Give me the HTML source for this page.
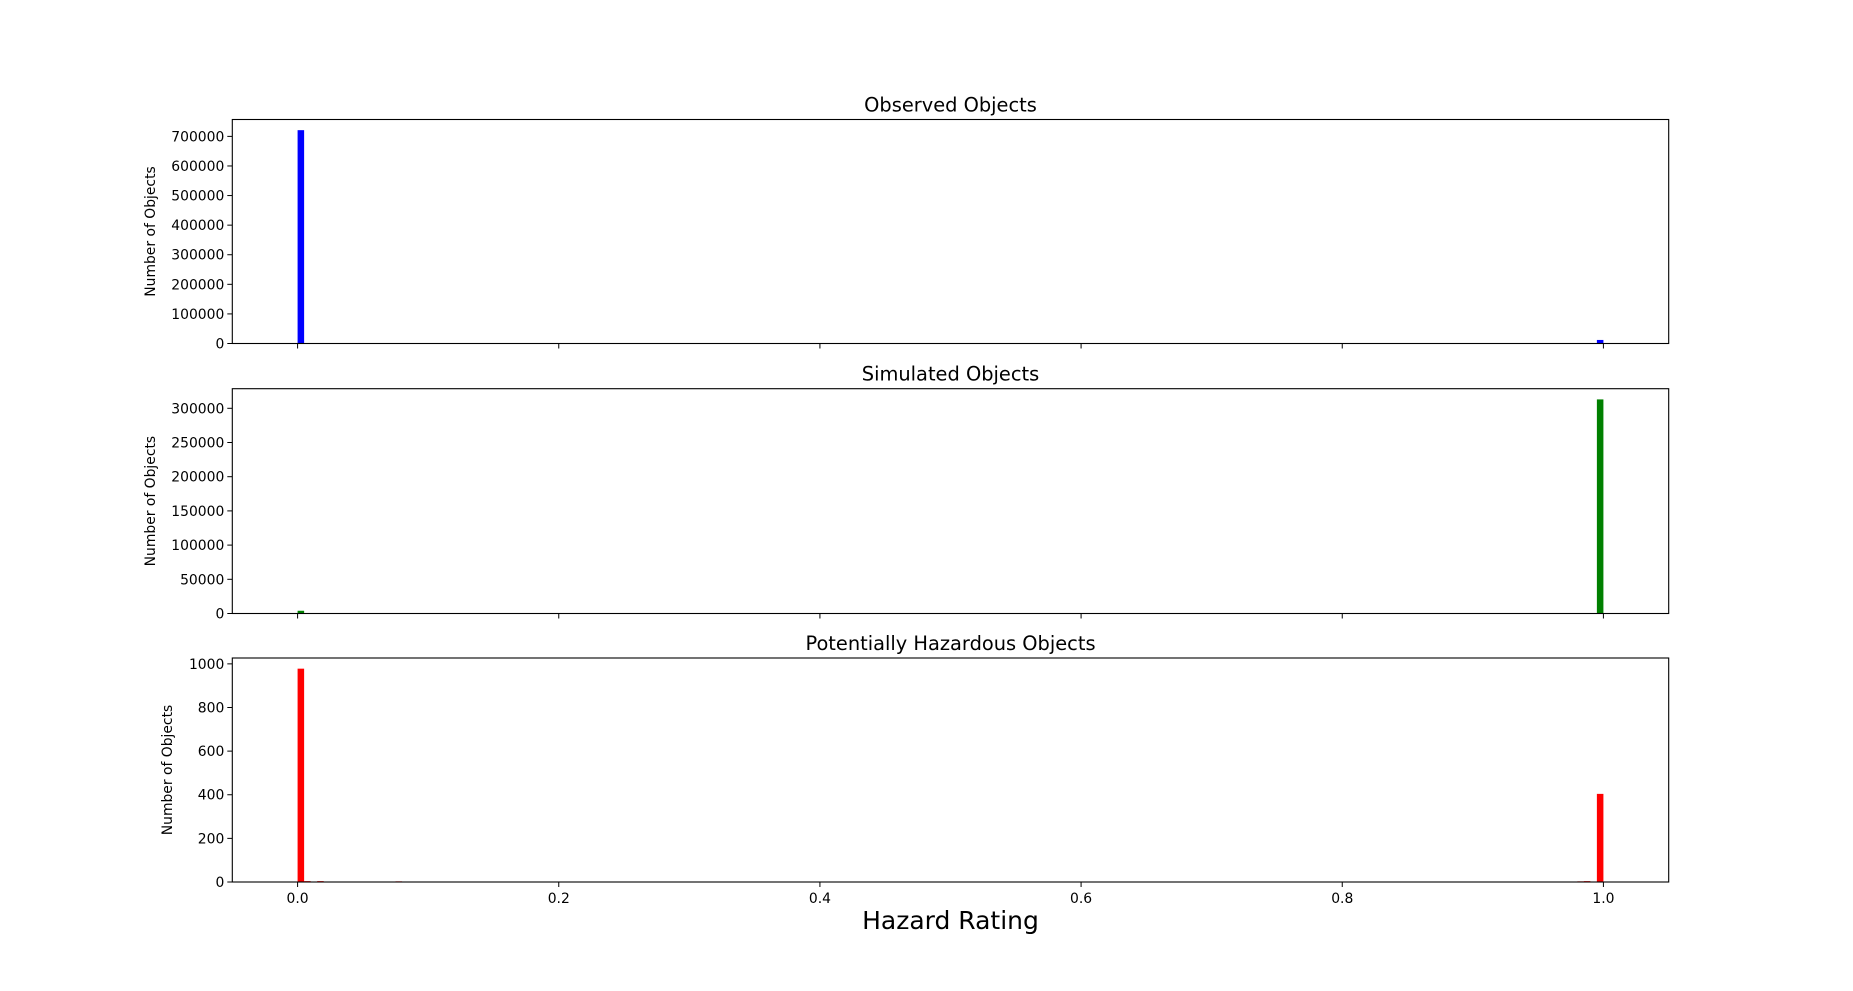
<!DOCTYPE html>
<html><head><meta charset="utf-8"><style>
body{margin:0;background:#fff;}
svg{display:block;font-family:"DejaVu Sans","Liberation Sans",sans-serif;}
</style></head><body>
<svg id="chart" width="1853" height="991" viewBox="0 0 1853 991" xmlns="http://www.w3.org/2000/svg"></svg>
<script>
// Data: histogram bins (200 bins over [0,1]); sparse bin index -> count
const binCount = 200;
const xTicks = [0.0, 0.2, 0.4, 0.6, 0.8, 1.0];
const xTickLabels = ["0.0", "0.2", "0.4", "0.6", "0.8", "1.0"];
const titles = ["Observed Objects", "Simulated Objects", "Potentially Hazardous Objects"];
const colors = ["#0000ff", "#008000", "#ff0000"];
const observedBins = [0, 199];
const observedCounts = [721000, 12000];
const simulatedBins = [0, 199];
const simulatedCounts = [4000, 313000];
const phaBins = [0, 1, 3, 15, 196, 197, 199];
const phaCounts = [978, 4, 4, 3, 3, 4, 404];
const yTicks1 = [0, 100000, 200000, 300000, 400000, 500000, 600000, 700000];
const yTicks2 = [0, 50000, 100000, 150000, 200000, 250000, 300000];
const yTicks3 = [0, 200, 400, 600, 800, 1000];

const svg = document.getElementById('chart');
const NS = 'http://www.w3.org/2000/svg';
function mk(tag, attrs, parent){
  const e = document.createElementNS(NS, tag);
  for (const k in attrs) e.setAttribute(k, attrs[k]);
  (parent||svg).appendChild(e); return e;
}
const L = 232.3, R = 1668.7;
const xMin = -0.05, xMax = 1.05;
function xs(v){ return L + (v - xMin) / (xMax - xMin) * (R - L); }
const panels = [
  {top:119.5, bottom:343.5, bins:observedBins, counts:observedCounts, ticks:yTicks1, ylx:155, name:'observed'},
  {top:388.7, bottom:613.5, bins:simulatedBins, counts:simulatedCounts, ticks:yTicks2, ylx:155, name:'simulated'},
  {top:658, bottom:882, bins:phaBins, counts:phaCounts, ticks:yTicks3, ylx:172, name:'pha'}
];
panels.forEach((p, i) => {
  const g = mk('g', {});
  
  
  const yMax = Math.max(...p.counts) * 1.05;
  const ys = v => p.bottom - v / yMax * (p.bottom - p.top);
  const bw = 1 / binCount;
  p.bins.forEach((b, j) => {
    const x0 = xs(b * bw), x1 = xs((b + 1) * bw);
    const y = ys(p.counts[j]);
    const r = mk('rect', {x:x0, y:y, width:x1 - x0, height:Math.max(p.bottom - y, 0.5), fill:colors[i]}, g);
    
    
  });
  const frame = mk('rect', {x:L, y:p.top, width:R - L, height:p.bottom - p.top, fill:'none', stroke:'#000', 'stroke-width':1.1}, g);
  
  
  p.ticks.forEach(t => {
    const y = ys(t);
    mk('line', {x1:L - 5, x2:L, y1:y, y2:y, stroke:'#000', 'stroke-width':1}, g);
    const tl = mk('text', {x:L - 8, y:y + 5, 'text-anchor':'end', 'font-size':13.9, fill:'#000'}, g);
    tl.textContent = String(t);
    
    
  });
  xTicks.forEach((t, k) => {
    const x = xs(t);
    mk('line', {x1:x, x2:x, y1:p.bottom, y2:p.bottom + 5, stroke:'#000', 'stroke-width':1}, g);
    if (i === 2) {
      const tl = mk('text', {x:x, y:p.bottom + 21, 'text-anchor':'middle', 'font-size':13.9, fill:'#000'}, g);
      tl.textContent = xTickLabels[k];
      
      
    }
  });
  const title = mk('text', {x:(L + R) / 2, y:p.top - 8, 'text-anchor':'middle', 'font-size':19.4, fill:'#000'}, g);
  title.textContent = titles[i];
  
  
  const cy = (p.top + p.bottom) / 2;
  const yl = mk('text', {x:p.ylx, y:cy, 'text-anchor':'middle', 'font-size':13.9, fill:'#000', transform:'rotate(-90 ' + p.ylx + ' ' + cy + ')'}, g);
  yl.textContent = 'Number of Objects';
  
  
});
const xl = mk('text', {x:(L + R) / 2, y:929, 'text-anchor':'middle', 'font-size':25, fill:'#000'});
xl.textContent = 'Hazard Rating';


</script>
</body></html>
